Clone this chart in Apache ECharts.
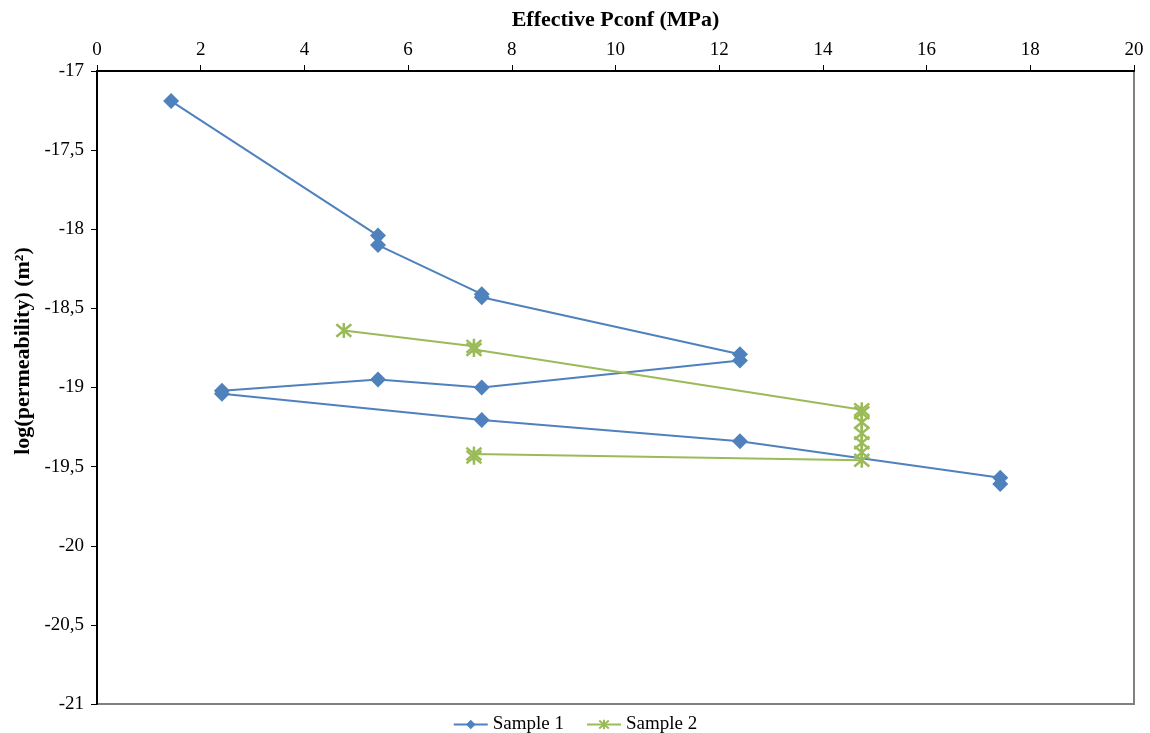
<!DOCTYPE html>
<html>
<head>
<meta charset="utf-8">
<script src="https://cdn.jsdelivr.net/npm/echarts@6/dist/echarts.min.js"></script>
<style>
  html, body { margin: 0; padding: 0; background: #fff; }
  #chart { width: 1150px; height: 733px; }
</style>
</head>
<body>
<div id="chart"></div>
<script>
  // Sample 1 (blue diamonds), in drawing order
  var sample1X = [1.43, 5.42, 5.42, 7.42, 7.42, 12.4, 12.4, 7.42, 5.42, 2.41, 2.41, 7.42, 12.4, 17.42, 17.42];
  var sample1Y = [-17.19, -18.04, -18.10, -18.41, -18.43, -18.79, -18.83, -19.00, -18.95, -19.02, -19.04, -19.205, -19.34, -19.57, -19.61];
  // Sample 2 (green stars)
  var sample2X = [4.76, 7.27, 7.27, 14.75, 14.75, 14.75, 14.75, 14.75, 14.75, 14.75, 7.27, 7.27];
  var sample2Y = [-18.64, -18.74, -18.76, -19.14, -19.16, -19.22, -19.29, -19.35, -19.41, -19.46, -19.42, -19.44];

  var xTicks = { min: 0, max: 20, interval: 2 };
  var yTicks = { min: -21, max: -17, interval: 0.5 };

  function pairs(xs, ys) {
    return xs.map(function (x, i) { return [x, ys[i]]; });
  }

  var font = 'Liberation Serif';
  var star = 'path://M0,0L10,10M10,0L0,10M5,-1L5,11';

  var chart = echarts.init(document.getElementById('chart'));
  chart.setOption({
    animation: false,
    textStyle: { fontFamily: font },
    grid: {
      left: 97, right: 16, top: 71, bottom: 29,
      outerBoundsMode: 'none',
      containLabel: false,
      show: true, borderColor: '#808080', borderWidth: 2
    },
    legend: {
      top: 710,
      left: 'center',
      itemWidth: 34,
      itemHeight: 12,
      itemGap: 22,
      textStyle: { fontFamily: font, fontSize: 19, color: '#000' },
      data: ['Sample 1', 'Sample 2']
    },
    xAxis: {
      type: 'value',
      position: 'top',
      min: xTicks.min, max: xTicks.max, interval: xTicks.interval,
      name: 'Effective Pconf (MPa)',
      nameLocation: 'middle',
      nameGap: 40,
      nameMoveOverlap: false,
      nameTextStyle: { fontFamily: font, fontSize: 22, fontWeight: 'bold', color: '#000' },
      axisLine: { onZero: false, lineStyle: { color: '#000', width: 2 } },
      axisTick: { show: true, length: 6, lineStyle: { color: '#000' } },
      axisLabel: { fontFamily: font, fontSize: 19, color: '#000', margin: 11 },
      splitLine: { show: false }
    },
    yAxis: {
      type: 'value',
      min: yTicks.min, max: yTicks.max, interval: yTicks.interval,
      name: 'log(permeability) (m²)',
      nameLocation: 'middle',
      nameGap: 63,
      nameMoveOverlap: false,
      nameTextStyle: { fontFamily: font, fontSize: 22, fontWeight: 'bold', color: '#000', padding: [0, 0, 0, 73] },
      axisLine: { onZero: false, lineStyle: { color: '#000', width: 2 } },
      axisTick: { show: true, length: 6, lineStyle: { color: '#000' } },
      axisLabel: {
        fontFamily: font, fontSize: 19, color: '#000', margin: 13,
        formatter: function (v) { return String(v).replace('.', ','); }
      },
      splitLine: { show: false }
    },
    series: [
      {
        name: 'Sample 1',
        type: 'line',
        data: pairs(sample1X, sample1Y),
        symbol: 'diamond',
        symbolSize: 16,
        showAllSymbol: true,
        lineStyle: { color: '#4F81BD', width: 2 },
        itemStyle: { color: '#4F81BD' }
      },
      {
        name: 'Sample 2',
        type: 'line',
        data: pairs(sample2X, sample2Y),
        symbol: star,
        symbolSize: 15,
        showAllSymbol: true,
        lineStyle: { color: '#9BBB59', width: 2 },
        itemStyle: { color: 'none', borderColor: '#9BBB59', borderWidth: 2.5 }
      }
    ]
  });
</script>
</body>
</html>
